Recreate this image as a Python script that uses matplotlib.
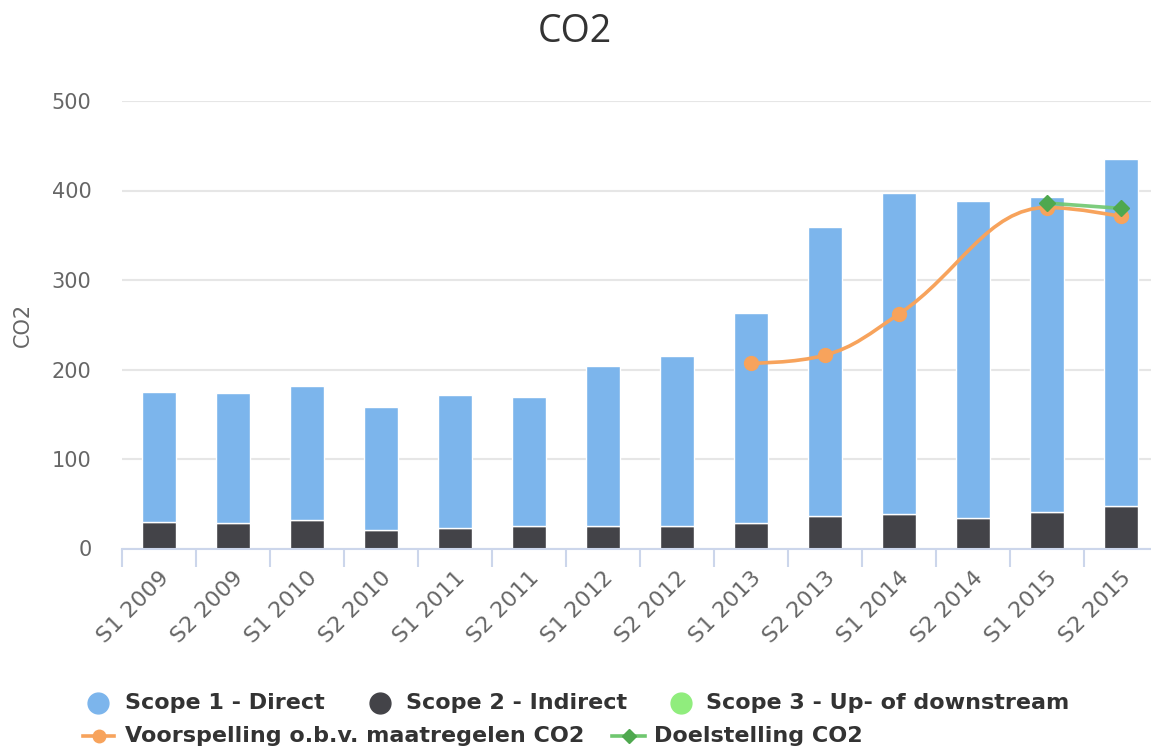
import numpy as np
import matplotlib
matplotlib.use("Agg")
import matplotlib.pyplot as plt
from matplotlib.path import Path
from matplotlib.patches import PathPatch
from matplotlib.lines import Line2D

# ---------------- data ----------------
categories = ['S1 2009', 'S2 2009', 'S1 2010', 'S2 2010', 'S1 2011', 'S2 2011', 'S1 2012',
              'S2 2012', 'S1 2013', 'S2 2013', 'S1 2014', 'S2 2014', 'S1 2015', 'S2 2015']
scope1 = [145, 146, 150, 137, 148, 144, 179, 190, 235, 323, 359, 354, 352, 388]
scope2 = [30, 28, 32, 21, 23, 25, 25, 25, 28, 36, 38, 34, 41, 47]
scope3 = [None] * 14
forecast = [None, None, None, None, None, None, None, None, 207, 216, 262, None, 381, 371]
target = [None, None, None, None, None, None, None, None, None, None, None, None, 386, 380]

series_names = ['Scope 1 - Direct', 'Scope 2 - Indirect', 'Scope 3 - Up- of downstream',
                'Voorspelling o.b.v. maatregelen CO2', 'Doelstelling CO2']
title = 'CO2'
ylabel = 'CO2'
yticks = [0, 100, 200, 300, 400, 500]

# ---------------- style ----------------
C1, C2, C3, C4, C5 = '#7cb5ec', '#434348', '#90ed7d', '#f7a35c', '#6fc76f'
C5M = '#4fa84f'
TXT = '#333333'
LBL = '#666666'
W, H = 1151, 751

fig = plt.figure(figsize=(W / 100, H / 100), dpi=100)
ax = fig.add_axes([122 / W, 1 - 548.5 / H, 1036 / W, 447.5 / H])

x = np.arange(len(categories))
bw = 0.47
ax.bar(x, scope2, width=bw, color=C2, edgecolor='white', linewidth=1, zorder=2)
ax.bar(x, scope1, width=bw, bottom=scope2, color=C1, edgecolor='white', linewidth=1, zorder=2)


def hc_spline(xs, ys, smoothing=1.5):
    n = len(xs)
    denom = smoothing + 1
    lc = [(xs[i], ys[i]) for i in range(n)]
    rc = [(xs[i], ys[i]) for i in range(n)]
    for i in range(1, n - 1):
        px_, py_ = xs[i - 1], ys[i - 1]
        nx_, ny_ = xs[i + 1], ys[i + 1]
        xx, yy = xs[i], ys[i]
        lx = (smoothing * xx + px_) / denom
        ly = (smoothing * yy + py_) / denom
        rx = (smoothing * xx + nx_) / denom
        ry = (smoothing * yy + ny_) / denom
        if rx != lx:
            corr = ((ry - ly) * (rx - xx)) / (rx - lx) + yy - ry
            ly += corr
            ry += corr
        if ly > py_ and ly > yy:
            ly = max(py_, yy); ry = 2 * yy - ly
        elif ly < py_ and ly < yy:
            ly = min(py_, yy); ry = 2 * yy - ly
        if ry > ny_ and ry > yy:
            ry = max(ny_, yy); ly = 2 * yy - ry
        elif ry < ny_ and ry < yy:
            ry = min(ny_, yy); ly = 2 * yy - ry
        lc[i] = (lx, ly)
        rc[i] = (rx, ry)
    verts = [(xs[0], ys[0])]
    codes = [Path.MOVETO]
    for i in range(1, n):
        verts += [rc[i - 1], lc[i], (xs[i], ys[i])]
        codes += [Path.CURVE4] * 3
    return Path(verts, codes)


fx = [i for i, v in enumerate(forecast) if v is not None]
fy = [v for v in forecast if v is not None]
ax.add_patch(PathPatch(hc_spline(fx, fy), fill=False, edgecolor=C4, linewidth=2.6,
                       zorder=3, capstyle='round', joinstyle='round'))
ax.plot(fx, fy, linestyle='none', marker='o', markersize=10, color=C4, zorder=4)

tx = [i for i, v in enumerate(target) if v is not None]
ty = [v for v in target if v is not None]
ax.plot(tx, ty, color=C5, linewidth=2.6, alpha=0.9, zorder=5)
ax.plot(tx, ty, linestyle='none', marker='D', markersize=8.5, color=C5M, zorder=6)

ax.set_xlim(-0.5, len(categories) - 0.5)
ax.set_ylim(0, 500)
ax.set_yticks(yticks)
ax.set_yticklabels([str(v) for v in yticks])
ax.set_xticks(x)
ax.set_xticklabels(categories)
ax.set_xticks(np.arange(-0.5, len(categories) + 0.5, 1), minor=True)

ax.tick_params(axis='x', which='major', length=0, pad=14, labelsize=16, labelcolor=LBL)
ax.tick_params(axis='x', which='minor', length=13, width=1.5, color='#ccd6eb')
ax.tick_params(axis='y', length=0, pad=22, labelsize=15, labelcolor=LBL)
for lab in ax.get_xticklabels():
    lab.set_rotation(45)
    lab.set_ha('right')
    lab.set_va('top')
    lab.set_rotation_mode('anchor')

for s in ['top', 'right', 'left']:
    ax.spines[s].set_visible(False)
ax.spines['bottom'].set_color('#ccd6eb')
ax.spines['bottom'].set_linewidth(1.5)
ax.spines['bottom'].set_zorder(7)
ax.yaxis.grid(True, color='#e6e6e6', linewidth=1.5)
ax.set_axisbelow(True)

fig.text(575 / W, 1 - 32 / H, title, ha='center', va='center', fontsize=27, color=TXT,
         family=['Open Sans', 'DejaVu Sans'])
fig.text(23 / W, 1 - 325 / H, ylabel, ha='center', va='center', rotation=90,
         fontsize=15, color=LBL)


# ---------------- legend (manual, Highcharts style) ----------------
def fp(px, py):
    return (px / W, 1 - py / H)


row1, row2 = 703, 736
items_row1 = [(98, 125, C1, series_names[0]), (380, 406, C2, series_names[1]),
              (681, 706, C3, series_names[2])]
for mx, tx_, col, name in items_row1:
    fig.add_artist(Line2D([fp(mx, row1)[0]], [fp(mx, row1)[1]], transform=fig.transFigure,
                          marker='o', markersize=15, color=col, linestyle='none'))
    fig.text(*fp(tx_, row1), name, ha='left', va='center', fontsize=16,
             fontweight='bold', color=TXT)

# forecast legend entry
x0, x1 = fp(83, row2)[0], fp(114, row2)[0]
yy = fp(0, row2)[1]
fig.add_artist(Line2D([x0, x1], [yy, yy], transform=fig.transFigure, color=C4, linewidth=2.6))
fig.add_artist(Line2D([(x0 + x1) / 2], [yy], transform=fig.transFigure, marker='o',
                      markersize=9, color=C4, linestyle='none'))
fig.text(*fp(125, row2), series_names[3], ha='left', va='center', fontsize=16,
         fontweight='bold', color=TXT)

x0, x1 = fp(612, row2)[0], fp(645, row2)[0]
fig.add_artist(Line2D([x0, x1], [yy, yy], transform=fig.transFigure, color=C5, linewidth=2.6))
fig.add_artist(Line2D([(x0 + x1) / 2], [yy], transform=fig.transFigure, marker='D',
                      markersize=7, color=C5M, linestyle='none'))
fig.text(*fp(654, row2), series_names[4], ha='left', va='center', fontsize=16,
         fontweight='bold', color=TXT)

fig.savefig('out.png', dpi=100, facecolor='white')
